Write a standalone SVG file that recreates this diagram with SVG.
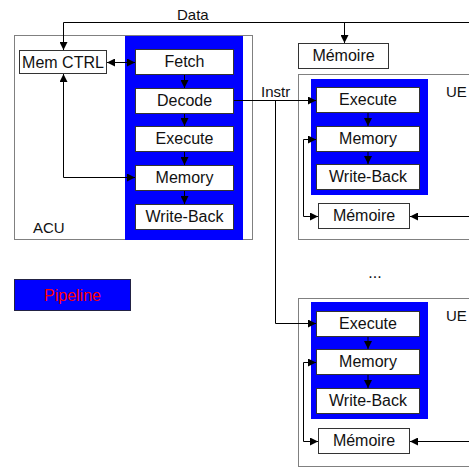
<svg xmlns="http://www.w3.org/2000/svg" width="469" height="467" viewBox="0 0 469 467">
<defs>
<marker id="ah" viewBox="0 0 10 10" refX="10" refY="5" markerWidth="9" markerHeight="8" markerUnits="userSpaceOnUse" orient="auto-start-reverse">
<path d="M0,0 L10,5 L0,10 z" fill="#000"/>
</marker>
<style>
.cont{fill:#fff;stroke:#808080;stroke-width:1}
.pipe{fill:#0000ff;stroke:none}
.box{fill:#fff;stroke:#333;stroke-width:1}
.t{font-family:"Liberation Sans",Arial,sans-serif;font-size:16px;fill:#111;text-anchor:middle}
.l{font-family:"Liberation Sans",Arial,sans-serif;font-size:15px;fill:#111}
.c{fill:none;stroke:#000;stroke-width:1}
</style>
</defs>
<rect width="469" height="467" fill="#fff"/>

<g id="acu">
<rect class="cont" x="14.5" y="35.5" width="238" height="204"/>
<rect class="pipe" x="125" y="36" width="118" height="204"/>
<text class="l" x="33" y="233">ACU</text>
</g>
<g id="memctrl"><rect class="box" x="19.5" y="50.5" width="87" height="23"/><text class="t" x="63" y="68">Mem CTRL</text></g>
<g id="fetch"><rect class="box" x="135.5" y="49.5" width="98" height="25"/><text class="t" x="184.5" y="67">Fetch</text></g>
<g id="decode"><rect class="box" x="135.5" y="88.5" width="98" height="25"/><text class="t" x="184.5" y="106">Decode</text></g>
<g id="execute"><rect class="box" x="135.5" y="126.5" width="98" height="25"/><text class="t" x="184.5" y="144">Execute</text></g>
<g id="memory"><rect class="box" x="135.5" y="165.5" width="98" height="25"/><text class="t" x="184.5" y="183">Memory</text></g>
<g id="writeback"><rect class="box" x="135.5" y="204.5" width="98" height="25"/><text class="t" x="184.5" y="222">Write-Back</text></g>

<g id="memoire-top"><rect class="box" x="298.5" y="43.5" width="90" height="25"/><text class="t" x="343.5" y="61">Mémoire</text></g>

<g id="ue1">
<rect class="cont" x="298.5" y="74.5" width="180" height="165"/>
<rect class="pipe" x="311" y="79" width="117" height="116"/>
<text class="l" x="446" y="97">UE</text>
</g>
<g id="ue1-execute"><rect class="box" x="316.5" y="87.5" width="103" height="25"/><text class="t" x="368" y="105">Execute</text></g>
<g id="ue1-memory"><rect class="box" x="316.5" y="126.5" width="103" height="25"/><text class="t" x="368" y="144">Memory</text></g>
<g id="ue1-writeback"><rect class="box" x="316.5" y="164.5" width="103" height="25"/><text class="t" x="368" y="182">Write-Back</text></g>
<g id="ue1-memoire"><rect class="box" x="318.5" y="203.5" width="91" height="25"/><text class="t" x="364" y="221">Mémoire</text></g>

<g id="dots"><text class="t" x="375" y="278">...</text></g>

<g id="ue2">
<rect class="cont" x="298.5" y="298.5" width="180" height="168"/>
<rect class="pipe" x="311" y="302" width="117" height="117"/>
<text class="l" x="446" y="321">UE</text>
</g>
<g id="ue2-execute"><rect class="box" x="316.5" y="311.5" width="103" height="25"/><text class="t" x="368" y="329">Execute</text></g>
<g id="ue2-memory"><rect class="box" x="316.5" y="349.5" width="103" height="25"/><text class="t" x="368" y="367">Memory</text></g>
<g id="ue2-writeback"><rect class="box" x="316.5" y="388.5" width="103" height="25"/><text class="t" x="368" y="406">Write-Back</text></g>
<g id="ue2-memoire"><rect class="box" x="318.5" y="428.5" width="91" height="25"/><text class="t" x="364" y="446">Mémoire</text></g>

<g id="legend">
<rect x="14.5" y="279.5" width="116" height="31" fill="#0000ff" stroke="#222244"/>
<text class="t" x="72.5" y="301" style="fill:#ff0000">Pipeline</text>
</g>

<g id="connectors">
<path class="c" d="M469,22.5 H63.5 V50" marker-end="url(#ah)"/>
<path class="c" d="M344.5,22.5 V43" marker-end="url(#ah)"/>
<text class="l" x="177" y="20">Data</text>
<path class="c" d="M107,62.5 H135" marker-start="url(#ah)" marker-end="url(#ah)"/>
<path class="c" d="M63.5,74 V177.5 H135" marker-start="url(#ah)" marker-end="url(#ah)"/>
<path class="c" d="M184.5,75 V88" marker-end="url(#ah)"/>
<path class="c" d="M184.5,114 V126" marker-end="url(#ah)"/>
<path class="c" d="M184.5,152 V165" marker-end="url(#ah)"/>
<path class="c" d="M184.5,191 V204" marker-end="url(#ah)"/>
<path class="c" d="M234,100.5 H316" marker-end="url(#ah)"/>
<text class="l" x="261" y="97">Instr</text>
<path class="c" d="M275.5,100.5 V323.5 H316" marker-end="url(#ah)"/>
<path class="c" d="M368,113 V126" marker-end="url(#ah)"/>
<path class="c" d="M368,152 V164" marker-end="url(#ah)"/>
<path class="c" d="M316,139.5 H303.5 V216.5 H318" marker-start="url(#ah)" marker-end="url(#ah)"/>
<path class="c" d="M469,216.5 H410" marker-end="url(#ah)"/>
<path class="c" d="M368,337 V349" marker-end="url(#ah)"/>
<path class="c" d="M368,375 V388" marker-end="url(#ah)"/>
<path class="c" d="M316,362.5 H303.5 V441.5 H318" marker-start="url(#ah)" marker-end="url(#ah)"/>
<path class="c" d="M469,441.5 H410" marker-end="url(#ah)"/>
</g>
</svg>
